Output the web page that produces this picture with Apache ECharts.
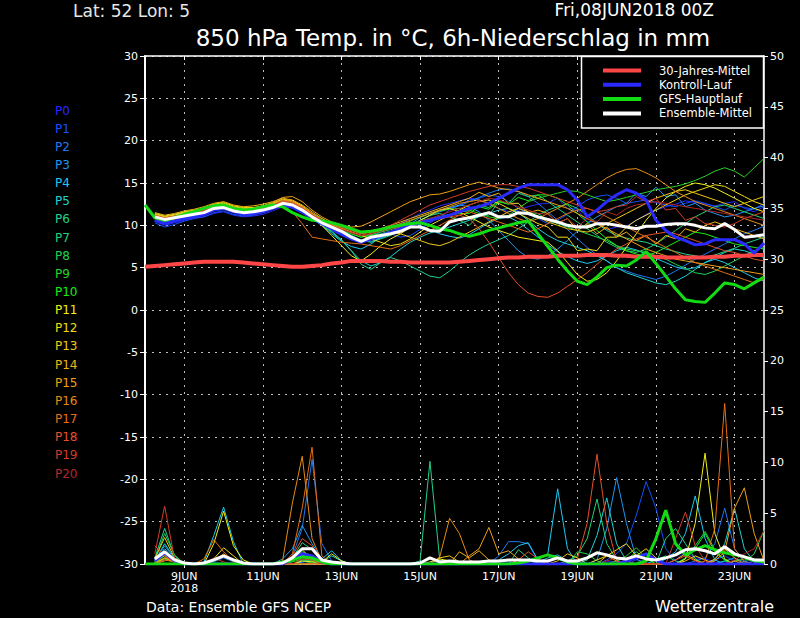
<!DOCTYPE html>
<html><head><meta charset="utf-8">
<script src="https://cdn.jsdelivr.net/npm/echarts@6/dist/echarts.min.js"></script>
<style>html,body{margin:0;padding:0;background:#000}#c{width:800px;height:618px}</style>
</head><body><div id="c"></div><script>
// forecast hours since Fri 08JUN2018 00Z
const hours = [0,6,12,18,24,30,36,42,48,54,60,66,72,78,84,90,96,102,108,114,120,126,132,138,144,150,156,162,168,174,180,186,192,198,204,210,216,222,228,234,240,246,252,258,264,270,276,282,288,294,300,306,312,318,324,330,336,342,348,354,360,366,372,378];
const tickHours = [24,72,120,168,216,264,312,360];
const tickLabels = ["9JUN\n2018","11JUN","13JUN","15JUN","17JUN","19JUN","21JUN","23JUN"];
const memberNames = ["P0","P1","P2","P3","P4","P5","P6","P7","P8","P9","P10","P11","P12","P13","P14","P15","P16","P17","P18","P19","P20"];

// 850 hPa temperature (°C), members from +6h
const t0 = [10.5,10.0,10.3,10.6,10.9,11.0,11.4,11.6, 11.2,11.0,11.1,11.3,11.7,12.2,12.2,11.6, 10.8,10.2,9.6,9.0,8.4,8.0,8.6,9.2, 9.6,10.2,10.8,11.4,11.8,12.3,12.6,12.9, 13.2,13.0,12.4,12.0,11.6,11.8,12.2,12.5, 12.6,13.2,12.0,11.9,10.4,10.5,9.5,9.8, 9.9,10.6,11.3,11.8,12.2,12.5,12.9,12.7, 12.5,12.3,12.6,12.8,12.0,11.6,12.2];
const t1 = [10.3,9.8,10.1,10.5,10.8,11.0,11.5,11.7, 11.3,11.1,11.2,11.5,11.9,12.3,12.0,11.4, 10.7,10.0,9.4,8.8,8.3,8.2,8.9,9.3, 9.0,8.6,8.8,9.5,10.3,11.0,11.8,12.4, 13.0,13.2,13.6,13.4,12.8,12.0,11.4,10.8, 10.2,10.6,11.3,12.2,13.0,13.4,13.6,13.2, 12.6,12.8,13.0,12.7,12.4,12.2,12.6,12.9, 12.6,12.2,11.8,12.4,12.1,11.9,12.6];
const t2 = [10.8,10.4,10.6,10.9,11.0,11.3,11.8,12.0, 11.6,11.3,11.4,11.6,12.0,12.4,12.3,11.9, 11.2,10.5,9.7,9.0,8.4,8.0,8.3,8.6, 8.9,9.3,10.0,10.6,11.1,11.6,12.0,12.3, 12.8,13.3,13.8,14.2,14.3,14.0,13.4,12.6, 11.6,10.6,9.5,8.4,7.4,6.5,5.8,5.0, 4.6,4.2,3.9,3.6,4.0,4.6,5.3,6.0, 6.6,7.2,7.8,8.4,9.0,9.4,9.9];
const t3 = [10.6,10.3,10.5,10.8,11.1,11.4,11.8,12.0, 11.6,11.4,11.5,11.7,12.0,12.4,12.2,11.7, 11.0,10.4,9.9,9.4,8.8,8.3,8.1,8.5, 8.9,9.5,10.2,10.9,11.4,11.8,12.1,12.4, 12.2,11.6,10.6,9.4,8.2,7.0,6.2,6.0, 6.4,7.2,8.2,9.3,10.2,11.0,11.6,12.2, 12.6,13.8,13.4,14.5,13.4,13.6,12.2,12.6, 11.8,11.4,11.0,11.2,11.6,12.0,12.3];
const t4 = [11.1,10.8,11.0,11.3,11.5,11.7,12.2,12.4, 12.0,11.7,11.8,12.0,12.3,12.8,12.6,12.0, 11.0,10.0,9.0,8.1,7.5,7.2,7.8,8.6, 9.2,9.8,10.4,10.0,9.5,9.0,8.7,8.5, 8.9,9.6,10.3,10.8,11.0,10.4,9.5,8.6, 7.7,6.9,6.3,5.8,5.5,5.8,6.4,7.0, 7.4,7.1,6.6,6.1,5.6,5.1,4.8,5.0, 5.6,6.0,5.6,5.0,4.4,3.8,3.4];
const t5 = [10.9,10.6,10.8,11.0,11.3,11.6,12.0,12.2, 11.8,11.6,11.7,11.9,12.2,12.6,12.5,11.9, 11.1,10.2,9.3,8.3,7.0,5.8,5.2,5.6, 6.3,7.2,8.0,8.6,9.1,9.4,9.8,10.2, 10.6,11.0,11.4,11.8,12.0,11.5,10.6,9.6, 8.8,8.2,7.8,7.4,7.0,6.4,5.8,5.0, 4.4,4.0,3.6,3.2,3.0,3.4,4.0,4.8, 5.6,6.2,6.8,7.2,7.0,6.6,6.2];
const t6 = [11.0,10.6,10.9,11.1,11.3,11.5,11.9,12.1, 11.7,11.5,11.6,11.8,12.1,12.5,12.3,11.7, 10.8,10.0,9.2,8.2,7.0,5.4,4.8,5.6, 6.2,5.8,5.2,4.6,4.0,3.8,4.6,5.6, 6.5,7.2,7.8,8.3,8.8,9.6,10.4,11.2, 11.8,12.2,12.5,12.0,11.2,10.2,9.4,8.8, 8.5,8.2,8.0,7.6,7.2,6.9,6.6,6.4, 6.2,6.5,6.9,7.3,7.8,8.2,8.6];
const t7 = [11.2,10.9,11.1,11.3,11.6,11.8,12.3,12.4, 12.0,11.8,11.8,12.0,12.3,12.8,12.6,12.0, 11.2,10.5,10.0,9.5,8.8,8.2,8.0,8.4, 8.8,9.4,10.0,10.6,11.2,11.4,11.0,10.6, 10.0,11.2,11.2,12.8,12.6,13.8,13.4,13.6, 12.8,12.0,11.2,10.4,9.6,8.8,8.0,7.4, 7.0,6.8,7.2,7.8,8.6,9.4,10.2,11.0, 11.6,12.2,12.4,12.0,11.6,11.2,10.8];
const t8 = [11.3,11.0,11.2,11.5,11.7,11.9,12.4,12.5, 12.1,11.9,12.0,12.2,12.5,12.9,12.7,12.1, 11.4,10.8,10.2,9.6,9.0,8.6,8.9,9.2, 9.5,9.8,10.2,10.5,10.8,11.0,11.3,11.6, 11.7,12.4,12.1,12.9,12.5,12.6,11.5,11.4, 10.6,10.2,9.8,9.4,9.0,8.6,8.2,7.6, 7.2,7.0,6.8,6.4,6.0,5.4,4.9,4.4, 4.2,4.6,5.2,5.8,6.4,7.0,7.4];
const t9 = [11.1,10.8,11.0,11.2,11.4,11.7,12.1,12.3, 11.9,11.7,11.8,12.0,12.3,12.7,12.5,11.9, 11.2,10.6,10.1,9.7,9.2,8.8,9.0,9.3, 9.6,10.0,10.5,11.0,11.4,11.7,11.9,12.0, 11.8,11.4,11.0,10.8,11.2,12.0,12.8,13.2, 13.5,13.8,14.1,14.0,13.6,13.2,12.8,13.0, 13.3,13.6,13.9,14.2,14.4,14.6,14.9,15.3, 15.8,16.4,16.8,16.4,15.7,16.8,17.9];
const t10 = [11.2,10.9,11.1,11.4,11.6,11.8,12.2,12.4, 12.0,11.8,11.9,12.1,12.4,12.8,12.6,12.0, 11.3,10.6,10.0,9.5,9.0,8.6,8.8,9.0, 9.3,9.6,10.0,10.4,10.8,11.0,11.2,11.4, 11.4,12.2,11.9,12.8,12.5,13.3,12.9,13.6, 13.6,13.2,12.4,11.4,10.4,9.4,8.4,7.6, 7.0,6.6,6.4,6.8,7.4,8.0,8.6,9.2, 9.0,8.6,8.2,7.8,7.6,7.4,7.2];
const t11 = [11.3,11.0,11.2,11.5,11.7,11.9,12.4,12.6, 12.2,12.0,12.0,12.2,12.5,13.0,12.8,12.2, 11.2,10.0,8.8,7.6,6.4,5.8,6.6,7.6, 8.4,9.0,9.8,10.6,11.2,11.8,12.0,11.6, 11.0,10.4,9.8,9.4,9.0,8.6,8.4,8.2, 8.0,7.0,5.6,4.2,3.4,3.6,4.4,5.8, 7.4,9.0,10.6,12.0,13.2,14.0,14.6,15.0, 14.8,14.4,13.8,13.2,12.6,12.0,11.6];
const t12 = [11.4,11.1,11.3,11.6,11.8,12.0,12.5,12.7, 12.3,12.1,12.1,12.3,12.6,13.1,12.9,12.3, 11.4,10.6,10.0,9.6,9.2,8.8,8.4,8.0, 7.6,7.8,8.4,9.2,10.0,10.6,11.2,11.8, 12.4,12.8,13.0,12.6,12.0,11.4,10.8,10.2, 9.8,8.6,8.6,7.0,7.2,7.0,8.6,8.6, 9.8,10.6,11.2,11.8,12.4,13.0,13.6,14.0, 14.4,14.8,14.6,14.0,13.4,12.8,12.4];
const t13 = [11.0,10.7,10.9,11.2,11.4,11.6,12.1,12.3, 11.9,11.7,11.8,12.0,12.3,12.8,12.6,12.0, 11.0,10.2,9.5,9.0,8.6,8.2,8.4,8.8, 9.2,9.0,8.6,8.2,7.8,7.6,8.0,8.6, 9.2,9.8,10.4,11.0,11.6,12.0,11.6,11.0, 10.4,10.0,9.6,9.4,9.2,9.6,10.2,10.8, 11.4,12.0,12.6,13.2,13.6,14.0,14.2,13.8, 13.4,13.0,12.6,12.2,12.6,13.0,13.4];
const t14 = [11.5,11.2,11.4,11.7,11.9,12.2,12.6,12.8, 12.4,12.2,12.3,12.5,12.8,13.2,13.0,12.4, 11.6,10.8,10.2,9.8,9.4,9.0,9.2,9.6, 10.0,10.4,10.8,11.2,11.6,12.0,12.4,12.8, 13.2,13.9,13.4,13.8,12.6,12.6,11.5,11.8, 11.4,10.2,10.8,9.4,10.2,9.0,9.8,8.6, 9.2,8.2,8.8,7.8,8.8,8.4,9.6,9.2, 10.0,10.4,10.0,9.6,9.2,8.8,8.4];
const t15 = [11.2,10.9,11.1,11.4,11.6,11.9,12.3,12.5, 12.1,11.9,12.0,12.3,12.7,13.3,13.4,12.8, 11.8,11.0,10.4,10.0,9.8,9.9,10.4,11.0, 11.6,12.2,12.8,13.2,13.6,13.7,14.0,14.4, 14.8,15.1,14.8,14.4,14.2,14.0,13.6,13.2, 12.8,12.4,12.0,11.4,10.8,10.2,9.6,9.0, 8.4,7.8,7.2,6.8,6.4,6.0,5.8,5.6, 5.4,5.2,5.0,4.8,4.6,4.4,4.2];
const t16 = [11.0,10.8,11.0,11.3,11.5,11.7,12.1,12.3, 11.9,11.7,11.8,12.0,12.4,13.0,12.8,12.2, 11.4,10.6,10.0,9.6,9.2,8.8,9.0,9.4, 9.8,10.2,10.6,11.0,11.4,11.8,12.2,12.6, 12.8,13.0,12.6,12.0,11.4,10.8,10.4,10.8, 11.4,12.0,12.6,13.2,14.0,14.8,15.6,16.2, 16.6,16.7,16.2,15.6,14.8,14.0,13.4,12.8, 12.4,12.0,11.6,11.2,10.8,10.4,10.0];
const t17 = [10.9,10.6,10.8,11.1,11.3,11.6,12.0,12.2, 11.8,11.6,11.7,11.9,12.2,12.4,11.6,10.2, 8.6,8.4,8.2,8.0,7.9,7.8,7.6,7.4, 7.2,7.6,8.2,8.8,9.4,10.0,10.6,11.2, 11.6,11.2,10.8,10.4,10.0,9.6,9.2,9.6, 10.2,10.8,11.4,11.8,12.0,11.6,11.0,10.4, 9.8,9.2,8.6,8.0,7.4,6.8,6.2,5.6, 5.2,4.8,4.4,4.0,3.6,3.2,3.6];
const t18 = [11.1,10.8,11.0,11.2,11.5,11.7,12.2,12.4, 12.0,11.8,11.9,12.1,12.4,12.9,12.7,12.1, 11.3,10.6,10.0,9.6,9.2,8.8,9.0,9.4, 9.6,9.8,10.0,10.4,10.6,10.8,11.0,11.2, 10.8,9.6,8.0,6.2,4.4,3.0,2.0,1.6, 1.5,2.0,2.8,3.6,4.4,5.4,6.4,7.2, 7.8,8.4,8.8,9.0,9.2,9.0,8.6,8.2, 7.8,7.4,7.0,6.8,6.4,6.0,5.8];
const t19 = [11.2,10.9,11.1,11.3,11.5,11.8,12.2,12.4, 12.0,11.8,11.9,12.1,12.4,12.8,12.6,12.0, 11.2,10.6,10.2,9.8,9.4,9.0,9.2,9.6, 10.0,10.6,11.2,11.8,12.4,12.8,13.2,13.6, 14.0,14.3,14.6,14.8,14.8,14.6,14.4,14.0, 13.6,13.2,12.8,12.4,12.0,11.6,11.8,12.2, 12.4,13.4,12.8,13.2,11.8,12.0,10.6,11.0, 10.2,10.0,9.8,10.2,10.8,11.2,11.6];
const t20 = [11.0,10.7,10.9,11.2,11.4,11.6,12.0,12.2, 11.8,11.6,11.7,11.9,12.2,12.6,12.4,11.8, 11.0,10.4,9.9,9.5,9.1,8.8,9.0,9.3, 9.6,9.9,10.2,10.5,10.8,11.2,11.6,12.0, 12.4,12.8,13.2,13.0,12.6,12.2,11.8,11.4, 11.3,10.3,10.8,9.8,10.8,10.4,11.6,11.2, 12.0,12.4,12.6,12.8,12.6,12.4,12.2,12.0, 11.8,11.6,11.4,11.2,11.0,10.8,10.6];

// 6h precipitation (mm), members from +6h
const r0 = [0,1.0,0.3,0,0,0,0,0, 0,0,0,0,0,0,0,0.2, 0.5,0.1,0,0,0,0,0,0, 0,0,0,0,0,0,0,0, 0,0,0,0.3,0.2,0,0,0, 0,0,0,0,0,0,0.3,0.2, 0,0.4,0.2,0,0,0.4,1.2,0.6, 0.5,0.2,0,0,0,0.3,0.5];
const r1 = [0.2,1.3,0.4,0,0,0,0,0, 0,0,0,0,0,0,0.6,0.9, 0.4,0,0,0,0,0,0,0, 0,0,0,0,0,0,0,0, 0,0,0,0,0,0,0,0, 0,0,0,0,0,0,0.4,1.0, 2.0,4.8,8.1,5.5,1.5,0.3,0,0, 0,0.4,0.8,0.3,0,0,0];
const r2 = [0,0.5,0.2,0,0,0,0.2,0.6, 0.2,0,0,0,0,0,0.8,3.5, 10.3,2.0,0.3,0,0,0,0,0, 0,0,0,0,0,0,0,0, 0,0,0,0.8,2.2,2.2,2.0,0.3, 0,0,0,0,0,0,0,0, 0,0,0,0,0,0,0,0.3, 0.6,2.0,5.5,1.5,0.3,0,0];
const r3 = [0.3,1.8,0.5,0,0,0,0,0, 0,0,0,0,0,0.5,1.5,3.8, 2.0,0.5,0,0,0,0,0,0, 0,0,0,0,0,0,0,0, 0,0,0,0,0,0,0,0, 0,0,0,0,0,0.4,3.5,8.5, 4.0,0.5,0,0,0,0,0,0, 0,0,0.3,0.6,0.2,0,0];
const r4 = [0.4,1.5,0.4,0,0,0.2,2.8,5.6, 2.2,0,0,0,0,0,0,0.2, 0.3,0.5,1.3,0.3,0,0,0,0, 0,0,0,0,0,0,0,0, 0,0,0,0.4,1.0,1.8,2.1,0.4, 1.0,7.4,1.5,0,0,0,0,0, 0,0,0,0,0.5,1.2,3.0,6.7, 2.5,0.4,0,0,0,0,0];
const r5 = [0.3,2.0,0.6,0,0,0,0,0, 0,0,0,0,0,0,0.3,0.9, 0.4,0.2,0.8,0.3,0,0,0,0, 0,0,0,0,0,0,0,0, 0,0,0,0,0,0,0,0.2, 0.6,0.9,0.3,0,0.4,2.8,6.5,2.0, 0.3,0,0,0,0,0,0,0, 0,0.4,2.0,5.5,1.5,0.2,0];
const r6 = [0.6,3.5,0.8,0,0,0,0,0, 0,0,0,0,0,0,0,0.4, 0.3,0,0,0,0,0,0,0, 0,0,0,0.3,10.1,0.4,0,0, 0,0,0,0,0,0,0,0, 0,0,0,0,0,0,0,0, 0,0,0,0,2.5,3.5,2.0,0.5, 0,0,0.3,0,0,0,0];
const r7 = [0.2,0.8,0.3,0,0,0,0,0, 0,0,0,0,0,0,0.6,2.1, 1.4,0.3,0,0,0,0,0,0, 0,0,0,0,0,0,0,0, 0,0,0,0,0,1.4,0.6,0, 0,0,0.3,0.8,2.5,6.4,2.0,0.4, 0,0,0,0.4,0.8,0.3,0,0, 0,0,0,0,0,0,0];
const r8 = [0.4,3.0,0.9,0,0,0,0,0, 0,0,0,0,0,0,0,0, 0.2,0,0,0,0,0,0,0, 0,0,0,0,0,0,0,0, 0,0,0,0,0,0,0,0, 0,0,0,1.2,1.0,0.3,0,0, 0,0,0,0,0,0,0.6,1.8, 3.2,1.4,0.4,0,0.2,1.0,3.3];
const r9 = [0.2,0.5,0.2,0,0,0,0,0, 0,0,0,0,0,0,0.2,0.5, 0.3,0,0,0,0,0,0,0, 0,0,0,0,0,0,0,0, 0,0,0,0,0,0,0,0, 0,0,0,0,0,0,0,0.3, 0.8,1.6,0.6,0,0,0,0,0, 0,0,0,0.3,0.5,0.2,0];
const r10 = [0.2,0.8,0.3,0,0,0,0,0, 0,0,0,0,0,0,0.4,1.2, 0.8,0.2,0,0,0,0,0,0, 0,0,0,0,0,0,0,0, 0,0,0,0,0,0,0,0, 0,0,0,0,0,0,0,0, 0.4,1.2,0.5,0,0,0,0.5,1.5, 3.0,1.2,0.4,0,0,0,0];
const r11 = [0.3,1.2,0.4,0,0,0,2.0,5.2, 1.8,0.4,0,0,0,0,0,0.3, 0.2,0.2,1.0,0.3,0,0,0,0, 0,0,0,0,0.2,0.5,0.3,0, 0,0,0,0,0,0,0,0, 0,0,0,0,0,0,0,0, 0,0,0,0,0,0,0.5,4.0, 10.9,3.0,0.5,0,0,0,0];
const r12 = [0,0.6,0.2,0,0,0,0.5,1.6, 0.8,0,0,0,0,0,0,0, 0,0,0,0,0,0,0,0, 0,0,0,0,0,0,0,0, 0,0,0,0,0,0,0,0, 0,0,0,0,0,0.4,0.8,1.4, 2.0,0.8,1.5,0.6,0,0,0.3,0.8, 0.4,0,0,0,0,0,0];
const r13 = [0.5,2.6,0.6,0,0,0,0,0, 0,0,0,0,0,0,0.4,1.4, 0.5,0,0,0,0,0,0,0, 0,0,0,0,0,0.6,0.8,0.2, 0,0,0,0,0,0,0,0, 0,0.3,1.0,0.6,0,0,0,0, 0,0,0,0,0,0,0,0, 0,0,0,0,0,0,0];
const r14 = [0.2,0.9,0.3,0,0,0,0,0, 0,0,0,0,0,0,0,0, 0,0,0,0,0,0,0,0, 0,0,0,0,0,0,0,1.2, 0.6,1.3,0.4,0,0,0,0,0, 0,0,0,0,0,0,0.8,0.3, 0,0,0,0,0,0.4,1.0,0.4, 0,0.5,1.5,0.6,0,0,0];
const r15 = [0.1,0.6,0.5,0,0,0,0,0, 0,0,0,0,0,0,0,0, 0,0,0,0,0,0,0,0, 0,0,0,0,0,0,0,0, 0.8,1.5,3.6,1.0,1.3,0.5,0,0, 0,0,0,0,0,0,0,0, 0,0,0,0,0,0,0,0, 0,0.3,1.2,5.5,7.5,3.0,0.3];
const r16 = [0,0.3,0.6,0,0,0,0.3,1.0, 0.3,0,0,0,0,0.3,6.0,10.6, 2.5,0.3,0,0,0,0,0,0, 0,0,0,0,0,0.7,4.5,3.0, 0.4,0,0,0,0,0,0,0, 0,0,0,0,0,0,0,0, 0,0,0,0,0,0,0,0, 0,0,0,0.3,0,0,0];
const r17 = [0,0.4,0.2,0,0,0.5,2.4,1.2, 0.2,0,0,0,0,0,1.0,5.5, 11.5,0.8,0,0,0,0,0,0, 0,0,0,0,0,0,0,0, 0,0,0,0,0,0,0,0, 0,0,0,0,0,0,0,0, 0,0,0,0,0,0,0,0, 0.3,3.5,15.8,1.5,0.2,0,0];
const r18 = [1.8,0.8,0.2,0,0,0,0,0, 0,0,0,0,0,0,0.8,2.5, 1.8,0.3,0,0,0,0,0,0, 0,0,0,0,0,0,0,0, 0,0,0,0,0,0.4,1.2,0.5, 0,0,0,0.5,4.0,10.8,4.0,0.3, 0,0,0,0,0,0.4,0.8,0.3, 0,0,0,0,0,0,0];
const r19 = [1.0,5.7,0.5,0,0,0,0.6,0.2, 0,0,0,0,0,0,0,0.5, 0.4,0,0,0,0,0,0,0, 0,0,0,0,0,0,0,0, 0,0,0,0,0,0,0,0, 0,0,0,0,0,0,0,0, 0,0,0,0,0,2.5,5.1,1.8, 0.3,0,0,0,0,0,0];
const r20 = [0.4,1.2,0.3,0,0,0,0,0, 0,0,0,0,0,0,0,0, 0,0,0,0,0,0,0,0, 0,0,0,0,0,0,0,0, 0,0,0,0,0,0,0,0, 0,0,0,0,0,0,0.3,0.6, 0.3,0,0,0,0,0,0,0, 0,0,0,0.4,1.0,1.5,3.3];

// special curves
const climateT = [5.1,5.2,5.3,5.4,5.5,5.6,5.7,5.7, 5.7,5.7,5.6,5.5,5.4,5.3,5.2,5.1, 5.1,5.2,5.3,5.5,5.6,5.8,5.8,5.8, 5.8,5.7,5.7,5.6,5.6,5.6,5.6,5.6, 5.7,5.8,5.9,6.0,6.1,6.2,6.2,6.3, 6.3,6.3,6.4,6.4,6.4,6.5,6.5,6.5, 6.4,6.4,6.3,6.3,6.3,6.2,6.2,6.2, 6.2,6.2,6.3,6.3,6.4,6.4,6.5,6.5]; // from 0h
const controlT = [10.6,10.2,10.5,10.8,11.0,11.3,11.8,12.0, 11.6,11.3,11.4,11.6,12.0,12.4,12.2,11.6, 10.9,10.2,9.6,9.0,8.4,8.0,8.4,8.8, 9.2,9.6,10.0,10.3,10.6,10.9,11.2,11.6, 12.0,12.2,12.6,13.2,13.8,14.4,14.8,14.8, 14.8,14.8,14.2,13.0,11.0,11.8,12.8,13.6, 14.2,13.8,13.0,10.6,9.4,8.6,8.2,7.7, 7.8,8.3,8.3,8.3,7.8,6.7,7.9];
const controlR = [0.3,1.1,0.3,0,0,0,0,0, 0,0,0,0,0,0,0.5,1.0, 0.8,0.2,0,0,0,0,0,0, 0,0,0,0,0,0,0,0, 0,0,0,0,0,0,0,0, 0,0,0,0,0,0,0,0, 0.3,0.6,1.0,0.4,0,0,0,0, 0,0,0,0,0,0,0];
const gfsT = [12.4, 10.9,10.6,10.9,11.3,11.6,12.0,12.3,12.4, 12.0,11.8,11.9,12.2,12.4,12.2,11.5,11.0, 10.6,10.5,10.3,10.0,9.6,9.2,9.3,9.5, 9.8,10.0,10.2,10.3,10.0,9.6,9.4,9.0, 8.7,9.0,9.4,9.7,10.0,10.3,10.5,9.0, 7.5,6.0,4.6,3.4,3.0,3.9,5.0,5.3, 5.2,5.9,6.9,5.5,4.0,2.5,1.2,1.0, 0.9,2.0,3.2,3.0,2.5,3.2,3.9]; // from 0h
const gfsR = [0, 0,0,0,0,0,0,0,0, 0,0,0,0,0,0.2,0.4,0.7, 0.6,0.2,0,0,0,0,0,0, 0,0,0,0,0,0,0,0, 0,0,0,0,0,0.1,0.3,0.6, 0.9,0.6,0.2,0,0,0,0,0, 0,0,0.3,2.5,5.3,2.0,0.9,1.4, 1.8,1.4,1.1,0.9,0.7,0.4,0.2]; // from 0h
const meanT = [11.0,10.7,10.9,11.1,11.3,11.5,12.0,12.1, 11.7,11.5,11.6,11.8,12.1,12.6,12.4,11.8, 11.0,10.3,9.8,9.3,8.6,8.1,8.6,8.8, 9.0,9.3,9.8,9.8,9.4,9.3,10.4,10.7, 10.9,11.2,11.5,11.0,11.0,11.5,11.4,11.0, 10.7,10.4,10.0,9.8,9.8,10.2,10.2,10.0, 9.8,9.6,9.9,9.9,10.1,10.2,10.2,10.0, 9.7,9.6,10.2,9.5,8.6,8.7,8.9];
const meanR = [0.5,1.2,0.4,0.1,0,0.1,0.4,0.8, 0.4,0.1,0,0,0,0.1,0.6,1.5, 1.5,0.4,0.2,0.1,0,0,0,0, 0,0,0,0.1,0.6,0.2,0.3,0.2, 0.2,0.2,0.3,0.3,0.4,0.4,0.4,0.3, 0.3,0.6,0.3,0.3,0.6,1.1,0.9,0.6, 0.5,0.8,0.5,0.4,0.6,0.9,1.4,1.5, 1.3,1.0,1.7,1.0,0.7,0.4,0.4];

const legendNames = ["30-Jahres-Mittel","Kontroll-Lauf","GFS-Hauptlauf","Ensemble-Mittel"];

// ---- styling ----
const memberColors = ["#2828ff","#1450ff","#1e78f0","#1e96f0","#1ec8f0","#20d2d0","#20d28c","#20d278","#20d250","#28d228","#14f014","#f0f014","#f0dc14","#f0c814","#f0b414","#f0a014","#e68c14","#e66e14","#e65028","#d23c28","#b42828"];
const specialColors = ["#ff4646","#2a2aff","#14dc14","#ffffff"];
const temps = [t0,t1,t2,t3,t4,t5,t6,t7,t8,t9,t10,t11,t12,t13,t14,t15,t16,t17,t18,t19,t20];
const rains = [r0,r1,r2,r3,r4,r5,r6,r7,r8,r9,r10,r11,r12,r13,r14,r15,r16,r17,r18,r19,r20];
const FONT = "DejaVu Sans";

const isTick = (idx, val) => tickHours.indexOf(Number(val)) >= 0;
const base = {type:'line', symbol:'none', showSymbol:false, silent:true, animation:false, emphasis:{disabled:true}, clip:true};
const series = [];
memberNames.forEach((n,i)=>{
  series.push(Object.assign({}, base, {name:n+' RR', yAxisIndex:1, data:[null].concat(rains[i]), lineStyle:{width:1,color:memberColors[i]}, z:2}));
});
memberNames.forEach((n,i)=>{
  series.push(Object.assign({}, base, {name:n, yAxisIndex:0, data:[null].concat(temps[i]), lineStyle:{width:1,color:memberColors[i]}, z:3}));
});
series.push(Object.assign({}, base, {name:legendNames[0], yAxisIndex:0, data:climateT, lineStyle:{width:4,color:specialColors[0]}, z:4}));
series.push(Object.assign({}, base, {name:legendNames[1]+' RR', yAxisIndex:1, data:[null].concat(controlR), lineStyle:{width:3,color:specialColors[1]}, z:4}));
series.push(Object.assign({}, base, {name:legendNames[1], yAxisIndex:0, data:[null].concat(controlT), lineStyle:{width:3,color:specialColors[1]}, z:4}));
series.push(Object.assign({}, base, {name:legendNames[2]+' RR', yAxisIndex:1, data:gfsR, lineStyle:{width:3,color:specialColors[2]}, z:5}));
series.push(Object.assign({}, base, {name:legendNames[2], yAxisIndex:0, data:gfsT, lineStyle:{width:3,color:specialColors[2]}, z:5}));
series.push(Object.assign({}, base, {name:legendNames[3]+' RR', yAxisIndex:1, data:[null].concat(meanR), lineStyle:{width:3,color:specialColors[3]}, z:6}));
series.push(Object.assign({}, base, {name:legendNames[3], yAxisIndex:0, data:[null].concat(meanT), lineStyle:{width:3,color:specialColors[3]}, z:6}));

const graphics = [];
// header / footer
graphics.push({type:'text', left:73, top:2, z:50, style:{text:'Lat: 52 Lon: 5', fill:'#e6e6e6', font:'17px '+FONT}});
graphics.push({type:'text', right:86, top:1, z:50, style:{text:'Fri,08JUN2018 00Z', fill:'#ffffff', font:'17px '+FONT}});
graphics.push({type:'text', x:453, y:38, z:50, style:{text:'850 hPa Temp. in °C, 6h-Niederschlag in mm', fill:'#ffffff', font:'23px '+FONT, textAlign:'center', textVerticalAlign:'middle'}});
graphics.push({type:'text', left:146, top:600, z:50, style:{text:'Data: Ensemble GFS NCEP', fill:'#ffffff', font:'14px '+FONT}});
graphics.push({type:'text', right:26, top:598, z:50, style:{text:'Wetterzentrale', fill:'#ffffff', font:'16px '+FONT}});
// member labels
memberNames.forEach((n,i)=>{
  graphics.push({type:'text', x:55, y:110.5+18.15*i, z:50, style:{text:n, fill:memberColors[i], font:'12px '+FONT, textVerticalAlign:'middle'}});
});
// legend box
graphics.push({type:'rect', shape:{x:581.5, y:56.5, width:182, height:71.5}, z:60, style:{fill:'#000', stroke:'#fff', lineWidth:1.5}});
legendNames.forEach((n,i)=>{
  const y = 70.5 + 14.3*i;
  graphics.push({type:'line', shape:{x1:603, y1:y, x2:641, y2:y}, z:61, style:{stroke:specialColors[i], lineWidth:4}});
  graphics.push({type:'text', x:659, y:y, z:61, style:{text:n, fill:'#fff', font:'11.5px '+FONT, textVerticalAlign:'middle'}});
});

const gridLine = {show:true, lineStyle:{color:'#bdbdbd', width:1, type:[2,5]}};
const option = {
  backgroundColor:'#000',
  animation:false,
  grid:{left:145, top:56, width:619, height:508, containLabel:false},
  xAxis:[
    {type:'category', data:hours.map(String), boundaryGap:false, position:'bottom',
     axisLine:{show:true, onZero:false, lineStyle:{color:'#fff', width:1.5}},
     axisTick:{show:true, inside:false, length:4, interval:isTick, lineStyle:{color:'#fff'}},
     axisLabel:{show:true, interval:isTick, color:'#fff', fontFamily:FONT, fontSize:11, lineHeight:12, margin:6,
       formatter:(v)=>{const k=tickHours.indexOf(Number(v)); return k>=0?tickLabels[k]:'';}},
     splitLine:Object.assign({interval:isTick}, gridLine)},
    {type:'category', data:hours.map(String), boundaryGap:false, position:'top',
     axisLine:{show:true, onZero:false, lineStyle:{color:'#fff', width:1.5}},
     axisTick:{show:true, inside:true, length:4, interval:isTick, lineStyle:{color:'#fff'}},
     axisLabel:{show:false}, splitLine:{show:false}}
  ],
  yAxis:[
    {type:'value', min:-30, max:30, interval:5, position:'left',
     axisLine:{show:true, onZero:false, lineStyle:{color:'#fff', width:2}},
     axisTick:{show:true, length:5, lineStyle:{color:'#fff'}},
     axisLabel:{color:'#fff', fontFamily:FONT, fontSize:11, margin:7},
     splitLine:gridLine},
    {type:'value', min:0, max:50, interval:5, position:'right',
     axisLine:{show:true, onZero:false, lineStyle:{color:'#fff', width:1.5}},
     axisTick:{show:true, length:4, lineStyle:{color:'#fff'}},
     axisLabel:{color:'#fff', fontFamily:FONT, fontSize:11, margin:6},
     splitLine:{show:false}}
  ],
  series:series,
  graphic:graphics
};
const chart = echarts.init(document.getElementById('c'), null, {renderer:'svg', width:800, height:618});
chart.setOption(option);
</script></body></html>
